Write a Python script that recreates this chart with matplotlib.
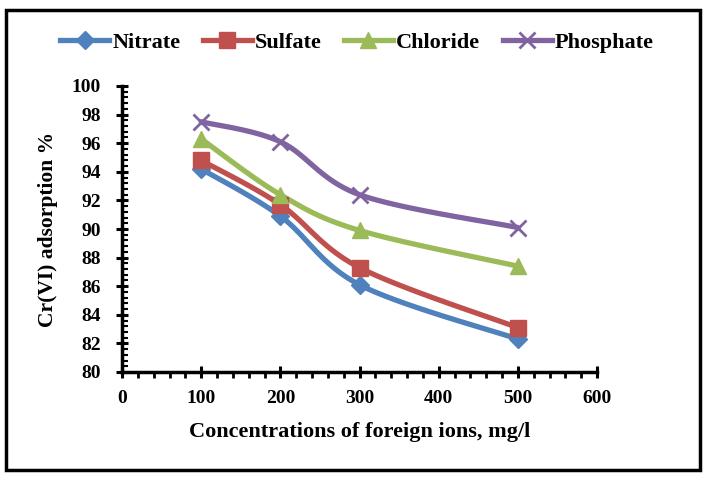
import numpy as np
import matplotlib
matplotlib.use("Agg")
import matplotlib.pyplot as plt
from matplotlib.lines import Line2D
from matplotlib.patches import Rectangle
from matplotlib.ticker import MultipleLocator

conc = [100, 200, 300, 500]
nitrate = [94.2, 90.9, 86.1, 82.3]
sulfate = [94.8, 91.7, 87.3, 83.1]
chloride = [96.3, 92.4, 89.9, 87.4]
phosphate = [97.5, 96.1, 92.4, 90.1]
series_names = ["Nitrate", "Sulfate", "Chloride", "Phosphate"]
x_ticks = [0, 100, 200, 300, 400, 500, 600]
y_ticks = [80, 82, 84, 86, 88, 90, 92, 94, 96, 98, 100]

colors = ["#4F81BD", "#C0504D", "#9BBB59", "#8064A2"]
markers = ["D", "s", "^", "x"]

plt.rcParams['font.family'] = ['Liberation Serif', 'DejaVu Serif']
plt.rcParams['font.weight'] = 'bold'


def smooth(xs, ys, n=40):
    xs = np.asarray(xs, float); ys = np.asarray(ys, float)
    P = np.column_stack([xs, ys])
    P = np.vstack([P[0], P, P[-1]])
    out = []
    for i in range(1, len(P) - 2):
        p0, p1, p2, p3 = P[i - 1], P[i], P[i + 1], P[i + 2]
        c1 = p1 + (p2 - p0) / 6.0
        c2 = p2 - (p3 - p1) / 6.0
        t = np.linspace(0, 1, n)[:, None]
        seg = ((1 - t) ** 3) * p1 + 3 * ((1 - t) ** 2) * t * c1 + 3 * (1 - t) * t ** 2 * c2 + t ** 3 * p2
        out.append(seg if i == 1 else seg[1:])
    out = np.vstack(out)
    return out[:, 0], out[:, 1]


fig = plt.figure(figsize=(7.10, 4.82), dpi=100)
ax = fig.add_axes([122 / 710, 1 - 372 / 482, 475 / 710, 286 / 482])

data = [nitrate, sulfate, chloride, phosphate]
handles = []
for name, ys, c, m in zip(series_names, data, colors, markers):
    sx, sy = smooth(conc, ys)
    ax.plot(sx, sy, color=c, lw=3.8, solid_capstyle='round', zorder=2)
    if m == "x":
        ax.plot(conc, ys, ls='none', marker=m, color=c, ms=11, mew=2, zorder=3)
    else:
        ms = {"D": 9, "s": 11, "^": 12}[m]
        ax.plot(conc, ys, ls='none', marker=m, color=c, ms=ms, zorder=3)
    handles.append(Line2D([], [], color=c, lw=3.8, marker=m,
                          ms=11 if m != "D" else 9, mew=2 if m == "x" else 1,
                          label=name))

ax.set_xlim(0, 600)
ax.set_ylim(80, 100)
ax.set_xticks(x_ticks)
ax.set_yticks(y_ticks)
ax.xaxis.set_minor_locator(MultipleLocator(20))
ax.yaxis.set_minor_locator(MultipleLocator(0.4))
for s in ['top', 'right']:
    ax.spines[s].set_visible(False)
for s in ['left', 'bottom']:
    ax.spines[s].set_linewidth(2.5)
ax.tick_params(axis='both', which='major', direction='inout', length=8, width=2.2,
               labelsize=14)
ax.tick_params(axis='x', which='major', pad=9)
ax.tick_params(axis='y', which='major', pad=11)
ax.tick_params(axis='x', which='minor', direction='out', length=4, width=2)
ax.tick_params(axis='y', which='minor', direction='in', length=4, width=1.5)
for lab in ax.get_xticklabels() + ax.get_yticklabels():
    lab.set_fontweight('bold')

ax.set_xlabel("Concentrations of foreign ions, mg/l", fontsize=16, fontweight='bold', labelpad=11)
ax.set_ylabel("Cr(VI) adsorption %", fontsize=15.5, fontweight='bold', labelpad=10)

fig.legend(handles=handles, loc='center', bbox_to_anchor=(357 / 710, 1 - 43 / 482),
           ncol=4, frameon=False, handlelength=2.2, columnspacing=1.0,
           handletextpad=0.15, prop={'weight': 'bold', 'size': 16})

fig.patches.append(Rectangle((6 / 710, 1 - 470 / 482), 694 / 710, 460 / 482,
                             transform=fig.transFigure, fill=False, ec='black', lw=2.5))

fig.savefig("out.png", dpi=100)
